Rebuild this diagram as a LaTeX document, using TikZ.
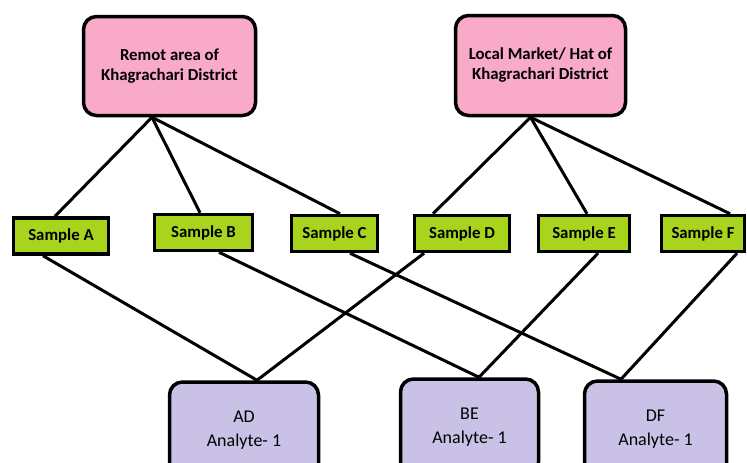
\documentclass[tikz,border=0pt]{standalone}
\usepackage{fontspec}
\setmainfont{Carlito}
\definecolor{areapink}{RGB}{248,170,200}
\definecolor{smpgreen}{RGB}{168,212,30}
\definecolor{anlilac}{RGB}{202,194,230}
\begin{document}
\begin{tikzpicture}[x=1pt, y=-1pt,
    areabox/.style={draw, line width=3.5pt, rounded corners=13pt, fill=areapink, align=center,
      font=\fontsize{16.8}{20}\selectfont\bfseries},
    smpbox/.style={draw, line width=3.5pt, fill=smpgreen, minimum height=36pt, inner sep=0pt,
      font=\fontsize{16.8}{19}\selectfont\bfseries},
    anbox/.style={draw, line width=3.5pt, rounded corners=13pt, fill=anlilac, align=center,
      minimum height=96pt, font=\fontsize{18}{24}\selectfont},
    link/.style={line width=3pt}]
    \useasboundingbox (0,0) rectangle (747,463);
    \clip (0,0) rectangle (747,463);
    % places
    \node[areabox, minimum width=172pt, minimum height=99pt] (remot) at (169.5,66) {Remot area of\\Khagrachari District};
    \node[areabox, minimum width=170pt, minimum height=100pt] (hat) at (540.5,65.5) {Local Market/ Hat of\\Khagrachari District};
    % samples
    \node[smpbox, minimum width=95pt] (smpA) at (61,236) {Sample A};
    \node[smpbox, minimum width=98pt] (smpB) at (203.5,232.5) {Sample B};
    \node[smpbox, minimum width=86pt] (smpC) at (334.5,233.5) {Sample C};
    \node[smpbox, minimum width=95pt] (smpD) at (462,233.5) {Sample D};
    \node[smpbox, minimum width=91pt] (smpE) at (584,233.5) {Sample E};
    \node[smpbox, minimum width=83pt] (smpF) at (703,233.5) {Sample F};
    % analytes
    \node[anbox, minimum width=149pt] (ad) at (244,430) {AD\\Analyte- 1};
    \node[anbox, minimum width=138pt] (be) at (469.5,427) {BE\\Analyte- 1};
    \node[anbox, minimum width=142pt] (df) at (655.5,429) {DF\\Analyte- 1};
    \coordinate (remotfoot) at ([xshift=-17.5pt]remot.south);
    \coordinate (hatfoot) at ([xshift=-10pt]hat.south);
    \draw[link] (remotfoot) -- ([xshift=-6pt]smpA.north);
    \draw[link] (remotfoot) -- ([xshift=-3.5pt]smpB.north);
    \draw[link] (remotfoot) -- ([xshift=5.5pt]smpC.north);
    \draw[link] (hatfoot) -- ([xshift=-29pt]smpD.north);
    \draw[link] (hatfoot) -- ([xshift=3pt]smpE.north);
    \draw[link] (hatfoot) -- ([xshift=27pt]smpF.north);
    % pairs
    \draw[link] ([xshift=-18pt]smpA.south) -- ([xshift=13pt]ad.north);
    \draw[link] ([xshift=-38pt]smpD.south) -- ([xshift=13pt]ad.north);
    \draw[link] ([xshift=15.5pt]smpB.south) -- ([xshift=9.5pt]be.north);
    \draw[link] ([xshift=14pt]smpE.south) -- ([xshift=9.5pt]be.north);
    \draw[link] ([xshift=15.5pt]smpC.south) -- ([xshift=-34.5pt]df.north);
    \draw[link] ([xshift=34pt]smpF.south) -- ([xshift=-34.5pt]df.north);
\end{tikzpicture}
\end{document}
